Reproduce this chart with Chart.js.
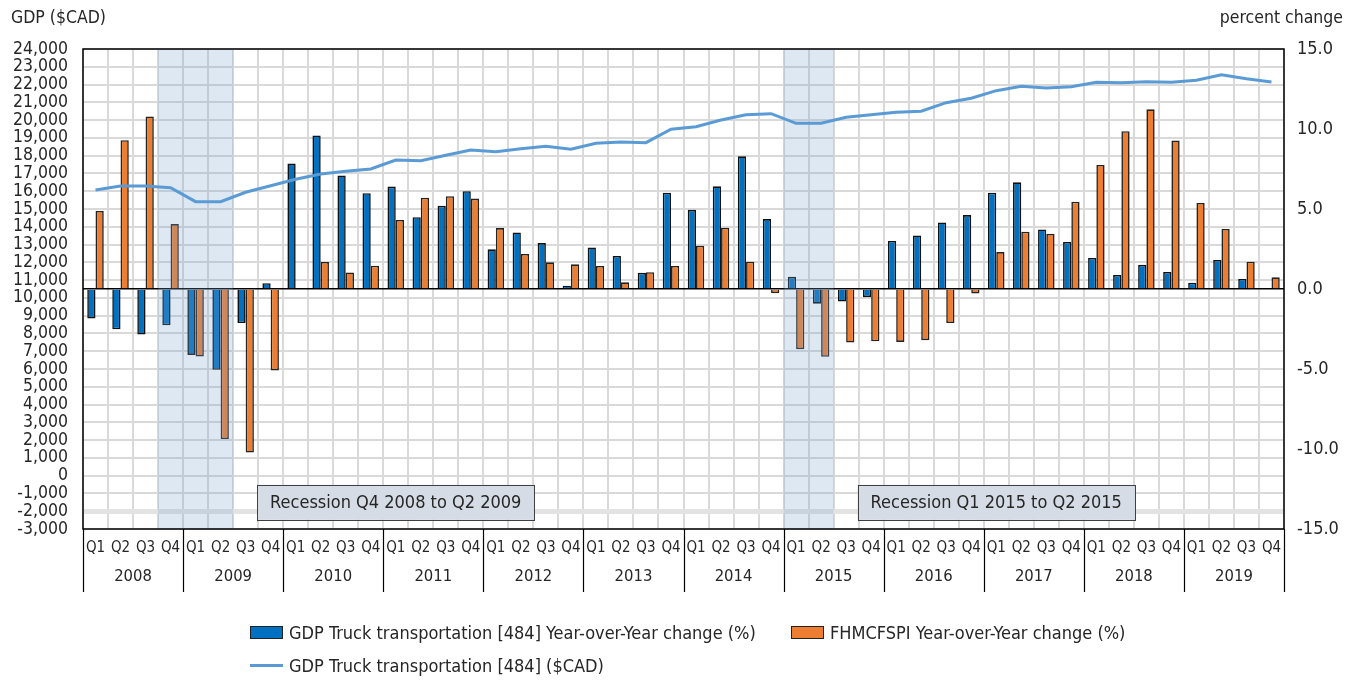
<!DOCTYPE html>
<html>
<head>
<meta charset="utf-8">
<script src="https://cdn.jsdelivr.net/npm/chart.js@4.4.1/dist/chart.umd.min.js"></script>
<style>
    html, body { margin: 0; padding: 0; background: #fff; }
    #wrap { position: relative; width: 1356px; height: 682px; }
    #legend {
        position: absolute; left: 250px; top: 619px;
        font-family: 'DejaVu Sans Condensed', sans-serif;
        font-size: 18px; color: #262626;
        display: grid; grid-template-columns: 541px auto; row-gap: 7px;
    }
    .item { display: flex; align-items: center; height: 26px; white-space: nowrap; }
    .box { flex-shrink: 0; width: 31px; height: 11px; border: 1px solid #222; margin-right: 6px; }
    .line { flex-shrink: 0; width: 33px; height: 3px; margin-right: 6px; }
</style>
</head>
<body>
<div id="wrap">
    <canvas id="myChart" width="1356" height="682"></canvas>
    <div id="legend"></div>
</div>
<script>
// Categories
const years = ['2008', '2009', '2010', '2011', '2012', '2013', '2014', '2015', '2016', '2017', '2018', '2019'];
const quarters = ['Q1', 'Q2', 'Q3', 'Q4'];

// GDP Truck transportation [484] Year-over-Year change (%)
const gdpYoY = [
    -1.85, -2.52, -2.85, -2.27,
    -4.12, -5.05, -2.13, 0.36,
    7.85, 9.6, 7.1, 5.99,
    6.4, 4.49, 5.2, 6.11,
    2.48, 3.53, 2.87, 0.2,
    2.6, 2.07, 1.01, 6.02,
    4.95, 6.42, 8.29, 4.37,
    0.76, -0.92, -0.78, -0.51,
    3.0, 3.35, 4.16, 4.62,
    6.02, 6.67, 3.72, 2.94,
    1.94, 0.88, 1.51, 1.07,
    0.39, 1.82, 0.63, 0.05
];

// FHMCFSPI Year-over-Year change (%)
const fhmYoY = [
    4.88, 9.3, 10.78, 4.06,
    -4.22, -9.38, -10.22, -5.09,
    0.05, 1.69, 1.03, 1.46,
    4.32, 5.71, 5.8, 5.65,
    3.81, 2.19, 1.67, 1.54,
    1.44, 0.42, 1.05, 1.44,
    2.71, 3.83, 1.71, -0.26,
    -3.76, -4.24, -3.35, -3.27,
    -3.31, -3.2, -2.13, -0.28,
    2.31, 3.58, 3.45, 5.46,
    7.75, 9.86, 11.23, 9.28,
    5.38, 3.75, 1.71, 0.73
];

// GDP Truck transportation [484] ($CAD)
const gdpCad = [
    16070, 16295, 16295, 16200,
    15412, 15412, 15941, 16312,
    16672, 16970, 17120, 17250,
    17757, 17718, 18022, 18320,
    18224, 18393, 18528, 18359,
    18697, 18770, 18730, 19484,
    19630, 20007, 20305, 20361,
    19821, 19821, 20159, 20305,
    20440, 20496, 20980, 21227,
    21655, 21902, 21807, 21880,
    22127, 22105, 22161, 22127,
    22240, 22555, 22330, 22144
];

// Recession periods (first and last quarter) and their notes
const recessionFrom = ['2008 Q4', '2015 Q1'];
const recessionTo = ['2009 Q2', '2015 Q2'];
const recessionNotes = ['Recession Q4 2008 to Q2 2009', 'Recession Q1 2015 to Q2 2015'];
const noteCentre = ['2011 Q1', '2017 Q1'];
const noteLevel = -1500; // on the $CAD axis

// Axis ranges
const leftMin = -3000, leftMax = 24000, leftStep = 1000;
const rightMin = -15, rightMax = 15, rightStep = 5;

const FONT = "'DejaVu Sans Condensed', sans-serif";
const TEXT = '#262626';

// one key per quarter, e.g. "2008 Q1"
const keys = [];
years.forEach(y => quarters.forEach(q => keys.push(y + ' ' + q)));

const colors = {
    blue: '#0070c0',
    orange: '#ed7d31',
    line: '#5b9bd5'
};

// shading, notes, frame, year row and axis titles
const extras = {
    id: 'extras',
    beforeDatasetDraw(chart, args) {
        if (args.index !== 0) return; // shading goes under the line only
        const { ctx, chartArea, scales } = chart;
        const half = (scales.x.getPixelForValue(1) - scales.x.getPixelForValue(0)) / 2;
        ctx.save();
        ctx.fillStyle = 'rgba(119, 163, 207, 0.25)';
        recessionFrom.forEach((from, i) => {
            const x0 = scales.x.getPixelForValue(keys.indexOf(from)) - half;
            const x1 = scales.x.getPixelForValue(keys.indexOf(recessionTo[i])) + half;
            ctx.fillRect(x0, chartArea.top, x1 - x0, chartArea.bottom - chartArea.top);
        });
        ctx.restore();
    },
    afterDraw(chart) {
        const { ctx, chartArea, scales } = chart;
        const half = (scales.x.getPixelForValue(1) - scales.x.getPixelForValue(0)) / 2;
        ctx.save();

        // recession notes
        ctx.font = '18px ' + FONT;
        ctx.textAlign = 'center';
        ctx.textBaseline = 'middle';
        recessionNotes.forEach((note, i) => {
            const cx = scales.x.getPixelForValue(keys.indexOf(noteCentre[i]));
            const cy = scales.y.getPixelForValue(noteLevel);
            const w = ctx.measureText(note).width + 26;
            const h = 35;
            ctx.fillStyle = '#d6dce5';
            ctx.fillRect(cx - w / 2, cy - h / 2, w, h);
            ctx.strokeStyle = '#404040';
            ctx.lineWidth = 1;
            ctx.strokeRect(Math.round(cx - w / 2) + 0.5, Math.round(cy - h / 2) + 0.5, Math.round(w), h);
            ctx.fillStyle = TEXT;
            ctx.fillText(note, cx, cy + 1);
        });

        // plot frame
        ctx.strokeStyle = '#000';
        ctx.lineWidth = 1.5;
        ctx.strokeRect(chartArea.left, chartArea.top, chartArea.right - chartArea.left, chartArea.bottom - chartArea.top);

        // year row with separators
        const rowBottom = scales.x.bottom;
        ctx.lineWidth = 1.2;
        for (let i = 0; i <= years.length; i++) {
            const x = Math.round(scales.x.getPixelForValue(i * 4) - half) + 0.5;
            ctx.beginPath();
            ctx.moveTo(x, chartArea.bottom);
            ctx.lineTo(x, rowBottom);
            ctx.stroke();
        }
        ctx.fillStyle = TEXT;
        ctx.font = '16.5px ' + FONT;
        years.forEach((y, i) => {
            const x = (scales.x.getPixelForValue(i * 4) + scales.x.getPixelForValue(i * 4 + 3)) / 2;
            ctx.fillText(y, x, chartArea.bottom + 48);
        });

        // axis titles
        ctx.font = '17.5px ' + FONT;
        ctx.textBaseline = 'middle';
        ctx.textAlign = 'left';
        ctx.fillText('GDP ($CAD)', 11, 18);
        ctx.textAlign = 'right';
        ctx.fillText('percent change', 1343, 18);
        ctx.restore();
    }
};

const ctx = document.getElementById('myChart').getContext('2d');
const myChart = new Chart(ctx, {
    data: {
        labels: keys,
        datasets: [
            {
                type: 'line',
                label: 'GDP Truck transportation [484] ($CAD)',
                data: gdpCad,
                yAxisID: 'y',
                borderColor: colors.line,
                borderWidth: 3,
                pointRadius: 0,
                tension: 0
            },
            {
                type: 'bar',
                label: 'GDP Truck transportation [484] Year-over-Year change (%)',
                data: gdpYoY,
                yAxisID: 'y1',
                backgroundColor: colors.blue,
                borderColor: '#111',
                borderWidth: 1.6,
                categoryPercentage: 0.66,
                barPercentage: 1.0
            },
            {
                type: 'bar',
                label: 'FHMCFSPI Year-over-Year change (%)',
                data: fhmYoY,
                yAxisID: 'y1',
                backgroundColor: colors.orange,
                borderColor: '#222',
                borderWidth: 1.6,
                categoryPercentage: 0.66,
                barPercentage: 1.0
            }
        ]
    },
    options: {
        responsive: false,
        animation: false,
        layout: { padding: { top: 49, bottom: 90, left: 0, right: 0 } },
        plugins: {
            legend: { display: false },
            tooltip: { enabled: false }
        },
        scales: {
            x: {
                grid: { color: '#d9d9d9', lineWidth: 2, drawTicks: false },
                border: { display: false },
                ticks: {
                    autoSkip: false,
                    maxRotation: 0,
                    padding: 10,
                    color: TEXT,
                    font: { family: FONT, size: 15 },
                    callback: (v, i) => keys[i].split(' ')[1]
                },
                afterFit: scale => { scale.height = 63; }
            },
            y: {
                position: 'left',
                min: leftMin,
                max: leftMax,
                grid: {
                    drawTicks: false,
                    color: c => c.tick.value === -2000 ? '#e3e3e3' : '#d9d9d9',
                    lineWidth: c => c.tick.value === -2000 ? 5 : 2
                },
                border: { display: false },
                ticks: {
                    stepSize: leftStep,
                    autoSkip: false,
                    padding: 15,
                    color: TEXT,
                    font: { family: FONT, size: 17.5, lineHeight: 1 },
                    callback: v => v.toLocaleString('en-US')
                },
                afterFit: scale => { scale.width = 83; }
            },
            y1: {
                position: 'right',
                min: rightMin,
                max: rightMax,
                grid: {
                    drawTicks: false,
                    color: c => c.tick.value === 0 ? '#000' : 'transparent',
                    lineWidth: 1.5
                },
                border: { display: false },
                ticks: {
                    stepSize: rightStep,
                    padding: 13,
                    color: TEXT,
                    font: { family: FONT, size: 18 },
                    callback: v => v.toFixed(1)
                },
                afterFit: scale => { scale.width = 72; }
            }
        }
    },
    plugins: [extras]
});

// HTML legend: the two bar series on the first row, the line below
const legend = document.getElementById('legend');
[1, 2, 0].forEach(i => {
    const ds = myChart.data.datasets[i];
    const item = document.createElement('div');
    item.className = 'item';
    const mark = document.createElement('span');
    if (ds.type === 'line') {
        mark.className = 'line';
        mark.style.background = ds.borderColor;
    } else {
        mark.className = 'box';
        mark.style.background = ds.backgroundColor;
    }
    item.appendChild(mark);
    item.appendChild(document.createTextNode(ds.label));
    legend.appendChild(item);
});
</script>
</body>
</html>
